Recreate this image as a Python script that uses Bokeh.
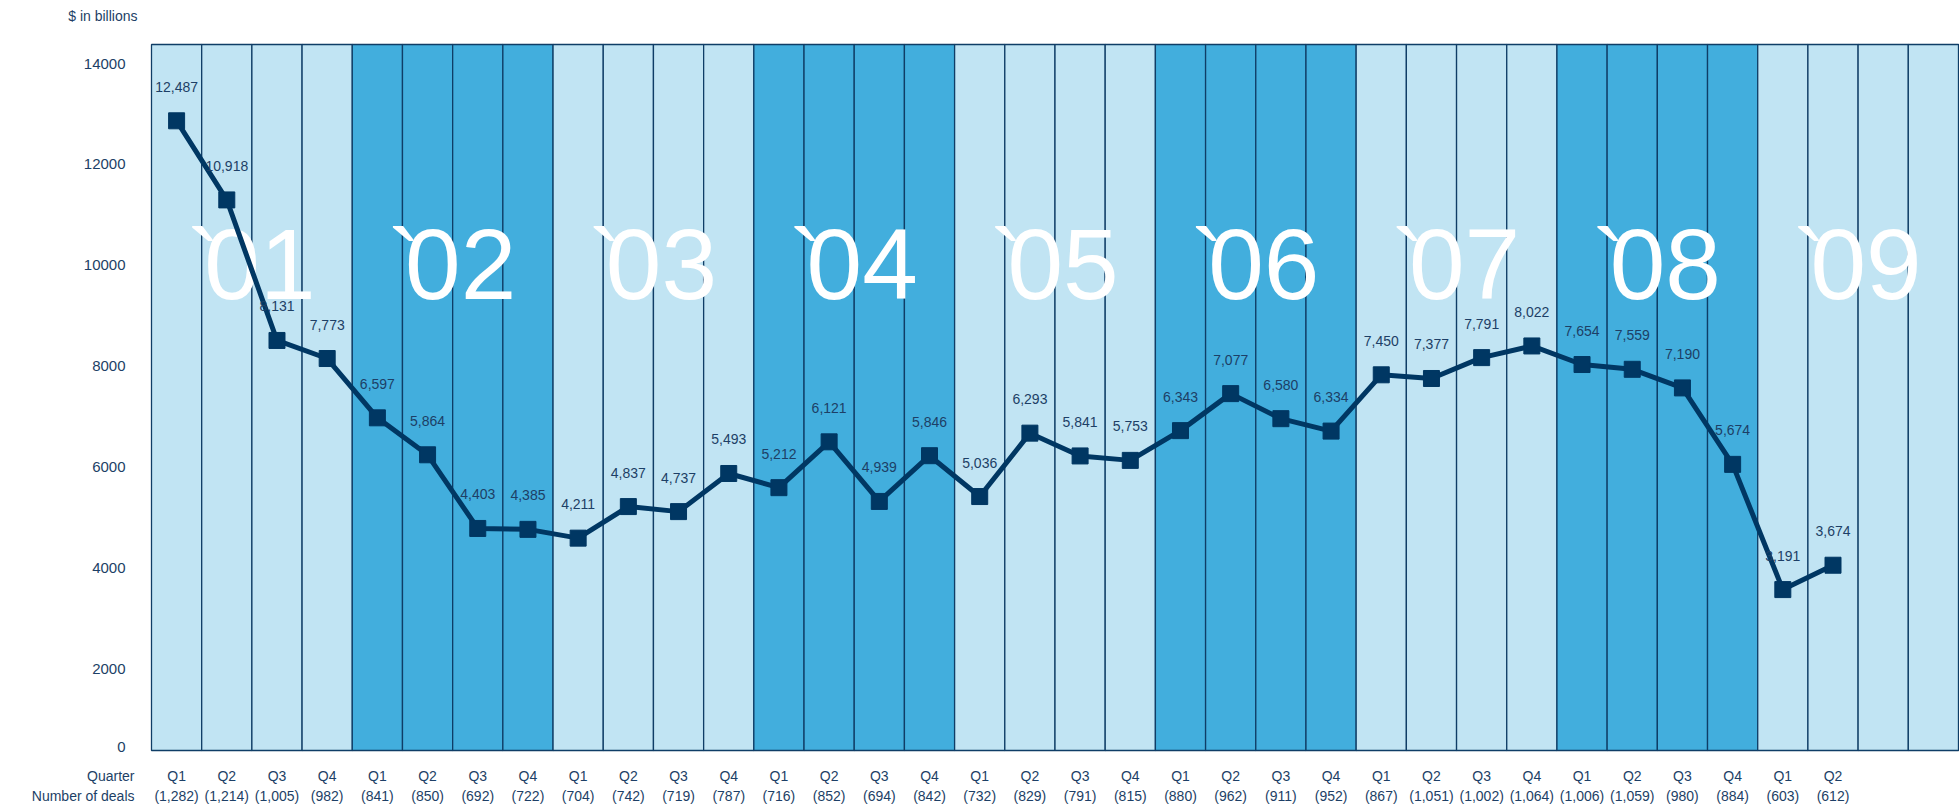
from bokeh.plotting import figure
from bokeh.models import Range1d
from bokeh.core.properties import value
from bokeh.embed import file_html
from bokeh.resources import INLINE

# ---------------- data ----------------
years = ["`01", "`02", "`03", "`04", "`05", "`06", "`07", "`08", "`09"]
quarters = ["Q1", "Q2", "Q3", "Q4"]
deal_value = [12487, 10918, 8131, 7773,
              6597, 5864, 4403, 4385,
              4211, 4837, 4737, 5493,
              5212, 6121, 4939, 5846,
              5036, 6293, 5841, 5753,
              6343, 7077, 6580, 6334,
              7450, 7377, 7791, 8022,
              7654, 7559, 7190, 5674,
              3191, 3674]
deal_count = [1282, 1214, 1005, 982,
              841, 850, 692, 722,
              704, 742, 719, 787,
              716, 852, 694, 842,
              732, 829, 791, 815,
              880, 962, 911, 952,
              867, 1051, 1002, 1064,
              1006, 1059, 980, 884,
              603, 612]
y_tick_values = [0, 2000, 4000, 6000, 8000, 10000, 12000, 14000]
y_unit_label = "$ in billions"
row_captions = ["Quarter", "Number of deals"]

# ---------------- layout / style ----------------
FONT = value("Liberation Sans")
NAVY = "#003763"
TEXT = "#1d3f66"
LIGHT = "#c1e4f3"
DARK = "#42aedd"
EDGE = "#0f3d66"

W, H = 1959, 804
COL_LEFT, COL_RIGHT = 151, 1958     # pixel extent of the quarter columns
ZERO_PX, TOP_PX = 750, 44           # pixel rows of 0 and 14000
YMAX = 14000

n_cols = len(years) * 4
ppc = (COL_RIGHT - COL_LEFT) / n_cols
upp = YMAX / (ZERO_PX - TOP_PX)
x_range = Range1d(-0.5 - COL_LEFT / ppc, n_cols - 0.5 + (W - COL_RIGHT) / ppc)
y_range = Range1d(-(H - ZERO_PX) * upp, YMAX + TOP_PX * upp)

p = figure(width=W, height=H, x_range=x_range, y_range=y_range,
           output_backend="svg", toolbar_location=None, title=None,
           x_axis_location=None, y_axis_location=None,
           min_border=0, min_border_left=0, min_border_right=0,
           min_border_top=0, min_border_bottom=0)
p.outline_line_color = None
p.grid.visible = False
p.background_fill_color = "white"
p.border_fill_color = "white"

x_edge = -0.5  # left edge of the first column in data units

# background quarter columns
col_x = list(range(n_cols))
col_color = [DARK if (i // 4) % 2 == 1 else LIGHT for i in col_x]
p.vbar(x=col_x, width=1, bottom=0, top=YMAX, fill_color=col_color,
       line_color=EDGE, line_width=1.3)

# big year labels (apostrophe set tight against the digits)
year_x = [4 * k + 1.5 for k in range(len(years))]
year_mid = 9630
p.text(x=year_x, y=[year_mid] * len(years), text=[y[1:] for y in years],
       x_offset=8, text_color="white", text_font=FONT, text_font_size="100px",
       text_align="center", text_baseline="middle")
p.text(x=year_x, y=[year_mid] * len(years), text=[y[0] for y in years],
       x_offset=-65, text_color="white", text_font=FONT, text_font_size="100px",
       text_align="left", text_baseline="middle")

# line + markers
q_x = list(range(len(deal_value)))
p.line(q_x, deal_value, line_color=NAVY, line_width=5)
p.scatter(q_x, deal_value, marker="square", size=16, fill_color=NAVY,
          line_color=NAVY)

# value labels
p.text(x=q_x, y=deal_value, text=[f"{v:,}" for v in deal_value],
       y_offset=-34, text_color=TEXT, text_font=FONT,
       text_font_size="14px", text_align="center", text_baseline="middle")

# y tick labels (they sit slightly below their gridline values, as in the original)
p.text(x=[x_edge] * len(y_tick_values), y=y_tick_values,
       text=[str(v) for v in y_tick_values], x_offset=-26,
       y_offset=[19 if v > 0 else -4 for v in y_tick_values],
       text_color=TEXT, text_font=FONT, text_font_size="15px",
       text_align="right", text_baseline="middle")

# unit caption
p.text(x=[x_edge], y=[YMAX], text=[y_unit_label], x_offset=-14, y_offset=-29,
       text_color=TEXT, text_font=FONT, text_font_size="14px",
       text_align="right", text_baseline="middle")

# bottom rows: quarter names and number of deals
row_offsets = [25, 45]
p.text(x=q_x, y=[0] * len(q_x), text=[quarters[i % 4] for i in q_x],
       y_offset=row_offsets[0], text_color=TEXT, text_font=FONT,
       text_font_size="14px", text_align="center", text_baseline="middle")
p.text(x=q_x, y=[0] * len(q_x), text=[f"({c:,})" for c in deal_count],
       y_offset=row_offsets[1], text_color=TEXT, text_font=FONT,
       text_font_size="14px", text_align="center", text_baseline="middle")
p.text(x=[x_edge] * 2, y=[0, 0], text=row_captions, x_offset=-17,
       y_offset=row_offsets, text_color=TEXT, text_font=FONT,
       text_font_size="14px", text_align="right", text_baseline="middle")

open("out.html", "w").write(file_html(p, INLINE))
